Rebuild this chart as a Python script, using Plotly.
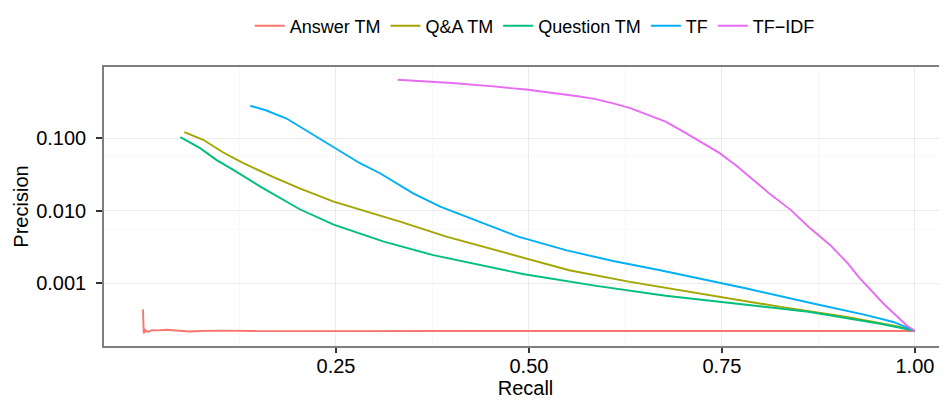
import plotly.graph_objects as go

# ---- data ----
series_names = ["Answer TM", "Q&A TM", "Question TM", "TF", "TF\u2212IDF"]
colors = ["#F8766D", "#A3A500", "#00BF7D", "#00B0F6", "#E76BF3"]

answer_recall = [0.0, 0.0005, 0.001, 0.003, 0.006, 0.012, 0.02, 0.03, 0.045, 0.06,
                 0.075, 0.10, 0.15, 0.25, 0.40, 0.60, 0.80, 1.0]
answer_prec = [0.00044, 0.00030, 0.000205, 0.000230, 0.000215, 0.000228, 0.000226,
               0.000230, 0.000222, 0.000218, 0.000222, 0.000224, 0.000221, 0.000222,
               0.000222, 0.000222, 0.000222, 0.000222]

qa_recall = [0.0535, 0.078, 0.104, 0.130, 0.169, 0.203, 0.247, 0.290, 0.333, 0.393,
             0.441, 0.488, 0.552, 0.631, 0.700, 0.770, 0.826, 0.912, 0.976, 1.0]
qa_prec = [0.121, 0.0948, 0.0634, 0.0452, 0.0290, 0.0204, 0.01337, 0.00973, 0.00708,
           0.00440, 0.00320, 0.00233, 0.00152, 0.00105, 0.000794, 0.000603, 0.000475,
           0.000346, 0.000258, 0.000222]

question_recall = [0.0484, 0.074, 0.095, 0.117, 0.152, 0.203, 0.247, 0.311, 0.376, 0.441,
                   0.492, 0.585, 0.677, 0.770, 0.862, 0.955, 1.0]
question_prec = [0.103, 0.0728, 0.0502, 0.0366, 0.0215, 0.0105, 0.00646, 0.00380,
                 0.00245, 0.00174, 0.00135, 0.000933, 0.000676, 0.000525, 0.000407,
                 0.000279, 0.000222]

tf_recall = [0.139, 0.160, 0.186, 0.212, 0.238, 0.251, 0.281, 0.307, 0.333, 0.350, 0.385,
             0.441, 0.486, 0.549, 0.609, 0.670, 0.722, 0.782, 0.868, 0.937, 0.972, 1.0]
tf_prec = [0.279, 0.240, 0.186, 0.126, 0.0853, 0.0708, 0.0452, 0.0329, 0.0227, 0.0174,
           0.0114, 0.00673, 0.00440, 0.00285, 0.00204, 0.00152, 0.00117, 0.000851,
           0.000530, 0.000366, 0.000295, 0.000222]

tfidf_recall = [0.330, 0.40, 0.45, 0.499, 0.561, 0.585, 0.608, 0.631, 0.654, 0.677, 0.700,
                0.747, 0.770, 0.811, 0.839, 0.862, 0.890, 0.913, 0.927, 0.959, 0.989, 1.0]
tfidf_prec = [0.637, 0.574, 0.519, 0.463, 0.380, 0.347, 0.304, 0.259, 0.209, 0.169, 0.123,
              0.0621, 0.0406, 0.0174, 0.0103, 0.00604, 0.00339, 0.00189, 0.00123,
              0.00053, 0.000266, 0.000222]

x_tick_vals = [0.25, 0.50, 0.75, 1.00]
x_tick_text = ["0.25", "0.50", "0.75", "1.00"]
y_tick_vals = [0.001, 0.01, 0.1]
y_tick_text = ["0.001", "0.010", "0.100"]

all_recall = [answer_recall, qa_recall, question_recall, tf_recall, tfidf_recall]
all_prec = [answer_prec, qa_prec, question_prec, tf_prec, tfidf_prec]

fig = go.Figure()
for name, col, xs, ys in zip(series_names, colors, all_recall, all_prec):
    fig.add_trace(go.Scatter(x=xs, y=ys, mode="lines", name=name,
                             line=dict(color=col, width=1.9)))

grid_major = "#EBEBEB"
grid_minor = "#F8F8F8"

# the page body has an 8px default margin, so the figure is sized to fit inside it
fig.update_layout(
    width=939, height=395,
    margin=dict(l=96, r=0, t=59, b=57, autoexpand=False),
    plot_bgcolor="white", paper_bgcolor="white",
    font=dict(family="Liberation Sans, Arial, sans-serif", size=20, color="black"),
    legend=dict(orientation="h", x=0.511, xanchor="center", y=1.147, yanchor="middle",
                font=dict(size=18), traceorder="normal", itemwidth=30),
    showlegend=True,
)
fig.update_xaxes(
    range=[-0.0505, 1.0415], automargin=False,
    tickmode="array", tickvals=x_tick_vals, ticktext=x_tick_text,
    showgrid=True, gridcolor=grid_major, gridwidth=1.2,
    minor=dict(tickmode="array", tickvals=[0.125, 0.375, 0.625, 0.875], showgrid=True,
               gridcolor=grid_minor, gridwidth=1.2, ticks=""),
    showline=True, linecolor="#7F7F7F", linewidth=1.5, mirror=True,
    ticks="outside", ticklen=5, tickwidth=1.5, tickcolor="#333333",
    ticklabelstandoff=-4,
    zeroline=False,
    title=dict(text="Recall", standoff=0, font=dict(size=20)),
)
fig.update_yaxes(
    type="log", range=[-3.861, -0.021], automargin=False,
    tickmode="array", tickvals=y_tick_vals, ticktext=y_tick_text,
    showgrid=True, gridcolor=grid_major, gridwidth=1.2,
    minor=dict(tickmode="array", tickvals=[0.0055, 0.055], showgrid=True,
               gridcolor=grid_minor, gridwidth=1.2, ticks=""),
    showline=True, linecolor="#7F7F7F", linewidth=1.5, mirror=False,
    ticks="outside", ticklen=6, tickwidth=1.5, tickcolor="#333333",
    ticklabelstandoff=6,
    zeroline=False,
    title=dict(text="Precision", standoff=2, font=dict(size=20)),
)

fig.write_html("out.html")
